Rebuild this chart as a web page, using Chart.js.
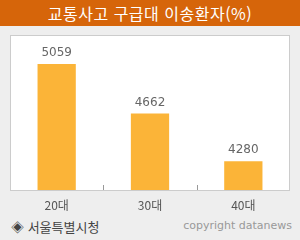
<!DOCTYPE html>
<html lang="ko">
<head>
  <meta charset="utf-8">
  <style>
    body {
      margin: 0;
      width: 300px;
      height: 240px;
      background-color: #eeeeee;
      position: relative;
      overflow: hidden;
      font-family: "Noto Sans CJK KR", sans-serif;
    }
    .title {
      position: absolute;
      left: 0; top: 0;
      width: 300px; height: 26px;
      background-color: #d6650a;
      color: #ffffff;
      font-size: 16px;
      line-height: 26px;
      text-align: center;
      letter-spacing: 0.5px;
    }
    .box {
      position: absolute;
      left: 10px; top: 35px;
      width: 278px; height: 154px;
      background-color: #ffffff;
      border: 1px solid #cccccc;
    }
    .chart-wrap {
      position: absolute;
      left: 10px; top: 35px;
      width: 280px; height: 180px;
    }
    .source {
      position: absolute;
      left: 11px; top: 217px;
      font-size: 13px;
      color: #444444;
    }
    .copy {
      position: absolute;
      right: 8px; top: 219px;
      font-family: "DejaVu Sans", sans-serif;
      font-size: 11px;
      color: #999999;
    }
  </style>
</head>
<body>
  <div class="title">교통사고 구급대 이송환자(%)</div>
  <div class="box"></div>
  <div class="chart-wrap">
    <canvas id="myChart" width="280" height="180"></canvas>
  </div>
  <div class="source">◈ 서울특별시청</div>
  <div class="copy">copyright datanews</div>

  <script src="https://cdn.jsdelivr.net/npm/chart.js"></script>
  <script>
    const ageGroups = ['20대', '30대', '40대'];
    const patients = [5059, 4662, 4280];
    const yMin = 4050;
    const yMax = 5290;

    /* ------------------------------------------------ */

    // numbers above each bar
    const valueLabels = {
      id: 'valueLabels',
      afterDatasetsDraw(chart) {
        const ctx = chart.ctx;
        const meta = chart.getDatasetMeta(0);
        ctx.save();
        ctx.font = '12px "DejaVu Sans", sans-serif';
        ctx.fillStyle = '#666666';
        ctx.textAlign = 'center';
        ctx.textBaseline = 'bottom';
        meta.data.forEach((bar, i) => {
          ctx.fillText(String(patients[i]), bar.x, bar.y - 5);
        });
        ctx.restore();
      }
    };

    // small ticks between categories, pointing up from the bottom border
    const innerTicks = {
      id: 'innerTicks',
      afterDatasetsDraw(chart) {
        const ctx = chart.ctx;
        const x = chart.scales.x;
        const bottom = chart.chartArea.bottom;
        ctx.save();
        ctx.strokeStyle = '#999999';
        ctx.lineWidth = 1;
        for (let i = 0; i < ageGroups.length - 1; i++) {
          const px = Math.round((x.getPixelForValue(i) + x.getPixelForValue(i + 1)) / 2) + 0.5;
          ctx.beginPath();
          ctx.moveTo(px, bottom - 5);
          ctx.lineTo(px, bottom);
          ctx.stroke();
        }
        ctx.restore();
      }
    };

    const ctx = document.getElementById('myChart').getContext('2d');
    const chart = new Chart(ctx, {
      type: 'bar',
      data: {
        labels: ageGroups,
        datasets: [{
          data: patients,
          backgroundColor: '#fbb438',
          borderWidth: 0,
          categoryPercentage: 1,
          barPercentage: 0.41
        }]
      },
      plugins: [valueLabels, innerTicks],
      options: {
        responsive: false,
        animation: false,
        layout: { padding: 0 },
        scales: {
          y: {
            display: false,
            min: yMin,
            max: yMax
          },
          x: {
            grid: { display: false },
            border: { display: false },
            ticks: {
              color: '#555555',
              padding: 0,
              font: { family: '"Noto Sans CJK KR", sans-serif', size: 12 }
            },
            afterFit(scale) {
              scale.height = 25;
            }
          }
        },
        plugins: {
          legend: { display: false },
          tooltip: { enabled: false }
        }
      }
    });
  </script>
</body>
</html>
